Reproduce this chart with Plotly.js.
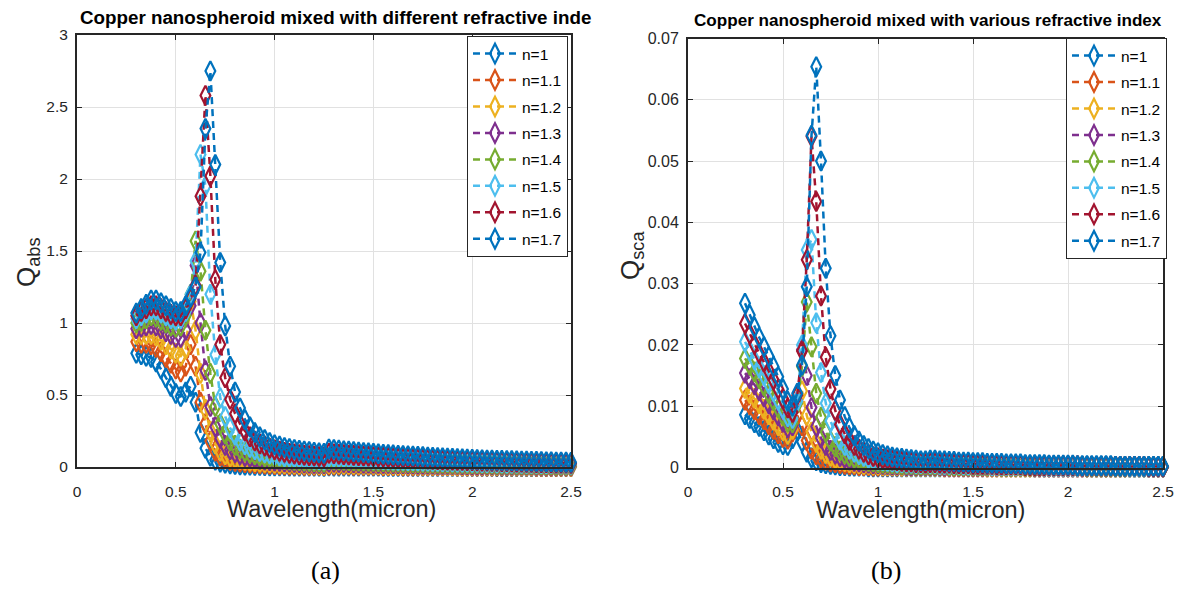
<!DOCTYPE html>
<html>
<head>
<meta charset="utf-8">
<script src="https://cdn.plot.ly/plotly-3.0.1.min.js"></script>
<style>
  html, body { margin: 0; padding: 0; background: #ffffff; }
  #chart { width: 1188px; height: 590px; }
</style>
</head>
<body>
<div id="chart"></div>
<script>
// Wavelength grid (micron)
const wavelength = [
  0.300,0.325,0.350,0.375,0.400,0.425,0.450,0.475,0.500,0.525,0.550,0.575,0.600,0.625,0.650,0.675,
  0.700,0.725,0.750,0.775,0.800,0.825,0.850,0.875,0.900,0.925,0.950,0.975,
  1.000,1.025,1.050,1.075,1.100,1.125,1.150,1.175,1.200,1.225,1.250,
  1.275,1.300,1.325,1.350,1.375,1.400,1.425,1.450,1.475,1.500,
  1.525,1.550,1.575,1.600,1.625,1.650,1.675,1.700,1.725,1.750,
  1.775,1.800,1.825,1.850,1.875,1.900,1.925,1.950,1.975,2.000,
  2.025,2.050,2.075,2.100,2.125,2.150,2.175,2.200,2.225,2.250,
  2.275,2.300,2.325,2.350,2.375,2.400,2.425,2.450,2.475,2.500
];

// Absorption efficiency Q_abs for each surrounding refractive index
const qabsN10 = [
  0.79,0.78,0.77,0.76,0.73,0.68,0.62,0.56,0.51,0.49,0.52,0.56,0.45,0.24,0.13,0.075,
  0.048,0.034,0.026,0.021,0.018,0.015,0.013,0.012,0.011,0.010,0.009,0.008,
  0.008,0.007,0.007,0.006,0.006,0.006,0.005,0.005,0.005,0.005,0.004,
  0.007,0.006,0.006,0.006,0.006,0.005,0.005,0.005,0.005,0.005,
  0.005,0.004,0.004,0.004,0.004,0.004,0.004,0.004,0.004,0.004,
  0.003,0.003,0.003,0.003,0.003,0.003,0.003,0.003,0.003,0.003,
  0.003,0.003,0.003,0.003,0.002,0.002,0.002,0.002,0.002,0.002,
  0.002,0.002,0.002,0.002,0.002,0.002,0.002,0.002,0.002,0.002
];
const qabsN11 = [
  0.87,0.86,0.86,0.85,0.83,0.80,0.76,0.72,0.68,0.66,0.70,0.85,0.70,0.45,0.30,0.18,
  0.11,0.075,0.056,0.045,0.038,0.033,0.029,0.026,0.023,0.021,0.019,0.018,
  0.016,0.015,0.014,0.013,0.013,0.012,0.011,0.011,0.010,0.010,0.009,
  0.013,0.013,0.012,0.012,0.012,0.011,0.011,0.011,0.010,0.010,
  0.010,0.009,0.009,0.009,0.009,0.008,0.008,0.008,0.008,0.008,
  0.007,0.007,0.007,0.007,0.007,0.007,0.006,0.006,0.006,0.006,
  0.006,0.006,0.006,0.005,0.005,0.005,0.005,0.005,0.005,0.005,
  0.005,0.005,0.004,0.004,0.004,0.004,0.004,0.004,0.004,0.004
];
const qabsN12 = [
  0.92,0.92,0.92,0.92,0.91,0.88,0.85,0.82,0.79,0.77,0.82,1.15,0.95,0.65,0.40,0.25,
  0.16,0.11,0.085,0.070,0.060,0.052,0.046,0.041,0.037,0.034,0.031,0.029,
  0.027,0.025,0.023,0.022,0.021,0.020,0.019,0.018,0.017,0.016,0.015,
  0.022,0.021,0.021,0.020,0.019,0.019,0.018,0.018,0.017,0.017,
  0.016,0.016,0.015,0.015,0.015,0.014,0.014,0.014,0.013,0.013,
  0.013,0.012,0.012,0.012,0.011,0.011,0.011,0.011,0.010,0.010,
  0.010,0.010,0.009,0.009,0.009,0.009,0.009,0.008,0.008,0.008,
  0.008,0.008,0.008,0.007,0.007,0.007,0.007,0.007,0.007,0.006
];
const qabsN13 = [
  0.96,0.97,0.98,0.99,0.98,0.96,0.94,0.92,0.90,0.90,0.95,1.12,1.40,1.00,0.67,0.42,
  0.28,0.20,0.15,0.12,0.10,0.085,0.074,0.066,0.059,0.053,0.048,0.044,
  0.041,0.038,0.035,0.033,0.031,0.029,0.028,0.026,0.025,0.024,0.023,
  0.034,0.033,0.032,0.031,0.030,0.029,0.028,0.027,0.026,0.026,
  0.025,0.024,0.024,0.023,0.022,0.022,0.021,0.021,0.020,0.020,
  0.019,0.019,0.018,0.018,0.017,0.017,0.017,0.016,0.016,0.015,
  0.015,0.015,0.014,0.014,0.014,0.013,0.013,0.013,0.012,0.012,
  0.012,0.012,0.011,0.011,0.011,0.011,0.010,0.010,0.010,0.010
];
const qabsN14 = [
  1.00,1.01,1.03,1.05,1.04,1.02,1.00,0.98,0.97,0.98,1.05,1.20,1.57,1.36,0.95,0.65,
  0.42,0.30,0.23,0.18,0.15,0.125,0.108,0.095,0.085,0.077,0.070,0.064,
  0.059,0.055,0.051,0.048,0.045,0.043,0.041,0.039,0.037,0.035,0.034,
  0.050,0.048,0.047,0.045,0.044,0.042,0.041,0.040,0.039,0.038,
  0.037,0.036,0.035,0.034,0.033,0.032,0.031,0.030,0.030,0.029,
  0.028,0.028,0.027,0.026,0.026,0.025,0.024,0.024,0.023,0.023,
  0.022,0.022,0.021,0.021,0.020,0.020,0.019,0.019,0.018,0.018,
  0.018,0.017,0.017,0.016,0.016,0.016,0.015,0.015,0.015,0.014
];
const qabsN15 = [
  1.03,1.05,1.07,1.09,1.09,1.07,1.05,1.03,1.02,1.03,1.08,1.20,1.43,2.17,1.95,1.20,
  0.78,0.48,0.35,0.27,0.22,0.18,0.155,0.135,0.120,0.108,0.098,0.090,
  0.083,0.077,0.072,0.068,0.064,0.061,0.058,0.055,0.053,0.051,0.049,
  0.070,0.068,0.066,0.064,0.062,0.060,0.058,0.056,0.055,0.053,
  0.052,0.050,0.049,0.048,0.046,0.045,0.044,0.043,0.042,0.041,
  0.040,0.039,0.038,0.037,0.036,0.035,0.034,0.033,0.033,0.032,
  0.031,0.030,0.030,0.029,0.028,0.028,0.027,0.026,0.026,0.025,
  0.025,0.024,0.024,0.023,0.023,0.022,0.022,0.021,0.021,0.020
];
const qabsN16 = [
  1.05,1.08,1.10,1.12,1.12,1.10,1.08,1.06,1.05,1.05,1.10,1.17,1.26,1.88,2.58,2.02,
  1.30,0.85,0.62,0.47,0.37,0.30,0.25,0.21,0.18,0.16,0.145,0.130,
  0.120,0.110,0.102,0.096,0.091,0.086,0.082,0.079,0.076,0.073,0.071,
  0.095,0.092,0.089,0.086,0.083,0.081,0.079,0.077,0.075,0.073,
  0.071,0.069,0.067,0.065,0.063,0.061,0.060,0.058,0.057,0.055,
  0.054,0.052,0.051,0.049,0.048,0.047,0.046,0.045,0.044,0.043,
  0.042,0.041,0.040,0.039,0.038,0.037,0.036,0.035,0.034,0.033,
  0.032,0.031,0.030,0.030,0.029,0.028,0.027,0.027,0.026,0.025
];
const qabsN17 = [
  1.07,1.10,1.13,1.16,1.16,1.14,1.12,1.10,1.08,1.08,1.12,1.18,1.25,1.49,2.35,2.75,
  2.10,1.42,0.98,0.70,0.52,0.41,0.33,0.28,0.24,0.21,0.19,0.17,
  0.155,0.145,0.135,0.128,0.122,0.116,0.111,0.107,0.103,0.099,0.096,
  0.125,0.121,0.117,0.113,0.110,0.107,0.104,0.101,0.098,0.095,
  0.092,0.089,0.087,0.084,0.082,0.080,0.078,0.076,0.074,0.072,
  0.070,0.068,0.066,0.064,0.062,0.060,0.058,0.057,0.055,0.053,
  0.052,0.050,0.049,0.048,0.047,0.046,0.045,0.044,0.043,0.042,
  0.041,0.040,0.039,0.038,0.037,0.036,0.035,0.035,0.034,0.033
];

// Scattering efficiency Q_sca for each surrounding refractive index
const qscaN10 = [
  0.0086,0.0080,0.0073,0.0067,0.0060,0.0053,0.0047,0.0041,0.0037,0.0036,0.0047,0.0060,0.0042,0.0025,0.0016,0.0011,
  0.0008,0.0006,0.0005,0.0004,0.0003,0.0003,0.0002,0.0002,0.0002,0.0002,0.0001,0.0001,
  0.0001,0.0001,0.0001,0.0001,0.0001,0.0001,0.0001,0.0001,0.0001,0.0001,0.0001,
  0.0001,0.0001,0.0001,0.0001,0.0001,0.0001,0.0001,0.0001,0.0001,0.0001,
  0.0001,0.0001,0.0001,0.0001,0.0001,0.0001,0.0001,0.0001,0.0001,0.0001,
  0.0001,0.0001,0.0001,0.0001,0.0001,0.0001,0.0001,0.0001,0.0001,0.0001,
  0.0001,0.0001,0.0001,0.0001,0.0001,0.0001,0.0001,0.0001,0.0001,0.0001,
  0.0001,0.0001,0.0001,0.0001,0.0001,0.0001,0.0001,0.0001,0.0001,0.0001
];
const qscaN11 = [
  0.0110,0.0102,0.0094,0.0086,0.0078,0.0070,0.0062,0.0055,0.0049,0.0046,0.0058,0.0085,0.0068,0.0044,0.0030,0.0021,
  0.0016,0.0012,0.0009,0.0008,0.0006,0.0005,0.0004,0.0004,0.0003,0.0003,0.0003,0.0002,
  0.0002,0.0002,0.0002,0.0002,0.0002,0.0002,0.0002,0.0002,0.0002,0.0002,0.0002,
  0.0002,0.0002,0.0002,0.0001,0.0001,0.0001,0.0001,0.0001,0.0001,0.0001,
  0.0001,0.0001,0.0001,0.0001,0.0001,0.0001,0.0001,0.0001,0.0001,0.0001,
  0.0001,0.0001,0.0001,0.0001,0.0001,0.0001,0.0001,0.0001,0.0001,0.0001,
  0.0001,0.0001,0.0001,0.0001,0.0001,0.0001,0.0001,0.0001,0.0001,0.0001,
  0.0001,0.0001,0.0001,0.0001,0.0001,0.0001,0.0001,0.0001,0.0001,0.0001
];
const qscaN12 = [
  0.0129,0.0121,0.0113,0.0104,0.0095,0.0086,0.0077,0.0068,0.0060,0.0054,0.0062,0.0105,0.0125,0.0085,0.0058,0.0041,
  0.0030,0.0023,0.0018,0.0014,0.0012,0.0010,0.0008,0.0007,0.0006,0.0005,0.0005,0.0004,
  0.0004,0.0003,0.0003,0.0003,0.0003,0.0002,0.0002,0.0002,0.0002,0.0002,0.0002,
  0.0002,0.0002,0.0002,0.0002,0.0002,0.0002,0.0002,0.0002,0.0002,0.0002,
  0.0002,0.0002,0.0001,0.0001,0.0001,0.0001,0.0001,0.0001,0.0001,0.0001,
  0.0001,0.0001,0.0001,0.0001,0.0001,0.0001,0.0001,0.0001,0.0001,0.0001,
  0.0001,0.0001,0.0001,0.0001,0.0001,0.0001,0.0001,0.0001,0.0001,0.0001,
  0.0001,0.0001,0.0001,0.0001,0.0001,0.0001,0.0001,0.0001,0.0001,0.0001
];
const qscaN13 = [
  0.0154,0.0145,0.0135,0.0125,0.0115,0.0104,0.0094,0.0084,0.0074,0.0065,0.0068,0.0108,0.0192,0.0150,0.0098,0.0067,
  0.0048,0.0036,0.0028,0.0022,0.0018,0.0015,0.0012,0.0010,0.0009,0.0008,0.0007,0.0006,
  0.0006,0.0005,0.0005,0.0004,0.0004,0.0004,0.0003,0.0003,0.0003,0.0003,0.0003,
  0.0003,0.0003,0.0003,0.0002,0.0002,0.0002,0.0002,0.0002,0.0002,0.0002,
  0.0002,0.0002,0.0002,0.0002,0.0002,0.0002,0.0002,0.0002,0.0002,0.0002,
  0.0002,0.0002,0.0001,0.0001,0.0001,0.0001,0.0001,0.0001,0.0001,0.0001,
  0.0001,0.0001,0.0001,0.0001,0.0001,0.0001,0.0001,0.0001,0.0001,0.0001,
  0.0001,0.0001,0.0001,0.0001,0.0001,0.0001,0.0001,0.0001,0.0001,0.0001
];
const qscaN14 = [
  0.0178,0.0167,0.0156,0.0145,0.0133,0.0121,0.0109,0.0097,0.0085,0.0074,0.0073,0.0105,0.0165,0.0270,0.0197,0.0121,
  0.0082,0.0058,0.0043,0.0034,0.0027,0.0022,0.0018,0.0015,0.0013,0.0011,0.0010,0.0009,
  0.0008,0.0007,0.0007,0.0006,0.0006,0.0005,0.0005,0.0005,0.0004,0.0004,0.0004,
  0.0004,0.0004,0.0004,0.0004,0.0003,0.0003,0.0003,0.0003,0.0003,0.0003,
  0.0003,0.0003,0.0003,0.0003,0.0003,0.0002,0.0002,0.0002,0.0002,0.0002,
  0.0002,0.0002,0.0002,0.0002,0.0002,0.0002,0.0002,0.0002,0.0002,0.0002,
  0.0002,0.0002,0.0002,0.0001,0.0001,0.0001,0.0001,0.0001,0.0001,0.0001,
  0.0001,0.0001,0.0001,0.0001,0.0001,0.0001,0.0001,0.0001,0.0001,0.0001
];
const qscaN15 = [
  0.0205,0.0190,0.0176,0.0163,0.0150,0.0137,0.0124,0.0110,0.0096,0.0083,0.0080,0.0108,0.0200,0.0355,0.0372,0.0236,
  0.0155,0.0105,0.0076,0.0057,0.0045,0.0036,0.0030,0.0025,0.0021,0.0018,0.0015,0.0013,
  0.0012,0.0011,0.0010,0.0009,0.0008,0.0008,0.0007,0.0007,0.0006,0.0006,0.0006,
  0.0006,0.0006,0.0005,0.0005,0.0005,0.0005,0.0005,0.0004,0.0004,0.0004,
  0.0004,0.0004,0.0004,0.0003,0.0003,0.0003,0.0003,0.0003,0.0003,0.0003,
  0.0003,0.0003,0.0003,0.0003,0.0002,0.0002,0.0002,0.0002,0.0002,0.0002,
  0.0002,0.0002,0.0002,0.0002,0.0002,0.0002,0.0002,0.0002,0.0002,0.0002,
  0.0002,0.0002,0.0001,0.0001,0.0001,0.0001,0.0001,0.0001,0.0001,0.0001
];
const qscaN16 = [
  0.0235,0.0218,0.0201,0.0186,0.0172,0.0158,0.0143,0.0128,0.0112,0.0097,0.0090,0.0118,0.0190,0.0339,0.0540,0.0434,
  0.0280,0.0180,0.0128,0.0093,0.0070,0.0055,0.0044,0.0036,0.0030,0.0025,0.0021,0.0018,
  0.0016,0.0014,0.0013,0.0012,0.0011,0.0010,0.0009,0.0009,0.0008,0.0008,0.0007,
  0.0008,0.0008,0.0007,0.0007,0.0007,0.0006,0.0006,0.0006,0.0006,0.0005,
  0.0005,0.0005,0.0005,0.0005,0.0004,0.0004,0.0004,0.0004,0.0004,0.0004,
  0.0003,0.0003,0.0003,0.0003,0.0003,0.0003,0.0003,0.0003,0.0003,0.0003,
  0.0003,0.0003,0.0002,0.0002,0.0002,0.0002,0.0002,0.0002,0.0002,0.0002,
  0.0002,0.0002,0.0002,0.0002,0.0002,0.0002,0.0001,0.0001,0.0001,0.0001
];
const qscaN17 = [
  0.0268,0.0249,0.0229,0.0212,0.0197,0.0181,0.0165,0.0148,0.0128,0.0108,0.0100,0.0121,0.0167,0.0295,0.0542,0.0654,
  0.0500,0.0325,0.0215,0.0150,0.0110,0.0083,0.0065,0.0052,0.0043,0.0036,0.0031,0.0027,
  0.0024,0.0021,0.0019,0.0017,0.0016,0.0015,0.0014,0.0013,0.0012,0.0011,0.0011,
  0.0012,0.0012,0.0011,0.0011,0.0010,0.0010,0.0009,0.0009,0.0009,0.0008,
  0.0008,0.0008,0.0007,0.0007,0.0007,0.0007,0.0006,0.0006,0.0006,0.0006,
  0.0005,0.0005,0.0005,0.0005,0.0005,0.0004,0.0004,0.0004,0.0004,0.0004,
  0.0004,0.0003,0.0003,0.0003,0.0003,0.0003,0.0003,0.0003,0.0003,0.0002,
  0.0002,0.0002,0.0002,0.0002,0.0002,0.0002,0.0002,0.0002,0.0002,0.0002
];

const seriesNames  = ['n=1', 'n=1.1', 'n=1.2', 'n=1.3', 'n=1.4', 'n=1.5', 'n=1.6', 'n=1.7'];
const seriesColors = ['#0072BD', '#D95319', '#EDB120', '#7E2F8E', '#77AC30', '#4DBEEE', '#A2142F', '#0072BD'];
const qabsSeries = [qabsN10, qabsN11, qabsN12, qabsN13, qabsN14, qabsN15, qabsN16, qabsN17];
const qscaSeries = [qscaN10, qscaN11, qscaN12, qscaN13, qscaN14, qscaN15, qscaN16, qscaN17];

const xTickVals = [0, 0.5, 1, 1.5, 2, 2.5];
const xTickText = ['0', '0.5', '1', '1.5', '2', '2.5'];
const absTickVals = [0, 0.5, 1, 1.5, 2, 2.5, 3];
const absTickText = ['0', '0.5', '1', '1.5', '2', '2.5', '3'];
const scaTickVals = [0, 0.01, 0.02, 0.03, 0.04, 0.05, 0.06, 0.07];
const scaTickText = ['0', '0.01', '0.02', '0.03', '0.04', '0.05', '0.06', '0.07'];

const SANS = "'Liberation Sans', Arial, Helvetica, sans-serif";
const SERIF = "'Liberation Serif', 'Times New Roman', serif";
const W = 1188, H = 590;
const px = v => v / W;           // horizontal pixel -> paper
const py = v => 1 - v / H;       // vertical pixel -> paper

function seriesTrace(values, i, xa, ya, legendId, group) {
  return {
    type: 'scatter',
    mode: 'lines+markers',
    x: wavelength,
    y: values,
    name: seriesNames[i],
    xaxis: xa,
    yaxis: ya,
    legend: legendId,
    legendgroup: group + i,
    cliponaxis: false,
    line: { color: seriesColors[i], width: 2.5, dash: '7px,5px' },
    marker: {
      symbol: 'diamond-tall-open',
      size: 14,
      color: seriesColors[i],
      line: { color: seriesColors[i], width: 2.2 }
    }
  };
}

const traces = [];
qabsSeries.forEach((s, i) => traces.push(seriesTrace(s, i, 'x', 'y', 'legend', 'abs')));
qscaSeries.forEach((s, i) => traces.push(seriesTrace(s, i, 'x2', 'y2', 'legend2', 'sca')));

function axisStyle(extra, fontSize) {
  return Object.assign({
    showline: true, linecolor: '#262626', linewidth: 2, mirror: 'ticks',
    ticks: 'inside', ticklen: 5, tickwidth: 1, tickcolor: '#262626',
    showgrid: true, gridcolor: '#e1e1e1', gridwidth: 1, zeroline: false,
    tickfont: { family: SANS, size: fontSize, color: '#262626' },
    tickmode: 'array', fixedrange: true
  }, extra);
}

function legendStyle(x, y) {
  return {
    x: x, y: y, xanchor: 'left', yanchor: 'top',
    bgcolor: '#ffffff', bordercolor: '#262626', borderwidth: 1,
    font: { family: SANS, size: 15.5, color: '#000000' },
    tracegroupgap: 3.3, traceorder: 'grouped', itemwidth: 44,
    itemclick: false, itemdoubleclick: false
  };
}

const layout = {
  width: W, height: H,
  margin: { l: 0, r: 0, t: 0, b: 0 },
  paper_bgcolor: '#ffffff', plot_bgcolor: '#ffffff',
  showlegend: true,
  xaxis: axisStyle({ domain: [px(77), px(571)], range: [0, 2.5], anchor: 'y',
    tickvals: xTickVals, ticktext: xTickText, ticklabelstandoff: 9 }, 15.5),
  yaxis: axisStyle({ domain: [py(467), py(35)], range: [0, 3], anchor: 'x',
    tickvals: absTickVals, ticktext: absTickText, ticklabelstandoff: 4 }, 15.5),
  xaxis2: axisStyle({ domain: [px(688), px(1163)], range: [0, 2.5], anchor: 'y2',
    tickvals: xTickVals, ticktext: xTickText, ticklabelstandoff: 9 }, 15.5),
  yaxis2: axisStyle({ domain: [py(467.5), py(38.5)], range: [0, 0.07], anchor: 'x2',
    tickvals: scaTickVals, ticktext: scaTickText, ticklabelstandoff: 4 }, 16),
  legend: legendStyle(px(467), py(36)),
  legend2: legendStyle(px(1066), py(38)),
  annotations: [
    { text: '<b>Copper nanospheroid mixed with different refractive inde</b>',
      xref: 'paper', yref: 'paper', x: px(78), y: py(18), xanchor: 'left', yanchor: 'middle',
      showarrow: false, font: { family: SANS, size: 18.8, color: '#000000' } },
    { text: '<b>Copper nanospheroid mixed with various refractive index</b>',
      xref: 'paper', yref: 'paper', x: px(692), y: py(20), xanchor: 'left', yanchor: 'middle',
      showarrow: false, font: { family: SANS, size: 17.1, color: '#000000' } },
    { text: 'Wavelength(micron)', xref: 'paper', yref: 'paper', x: px(331), y: py(509),
      xanchor: 'center', yanchor: 'middle', showarrow: false,
      font: { family: SANS, size: 23.5, color: '#262626' } },
    { text: 'Wavelength(micron)', xref: 'paper', yref: 'paper', x: px(920), y: py(510),
      xanchor: 'center', yanchor: 'middle', showarrow: false,
      font: { family: SANS, size: 23.5, color: '#262626' } },
    { text: 'Q<sub>abs</sub>', xref: 'paper', yref: 'paper', x: px(27), y: py(262),
      xanchor: 'center', yanchor: 'middle', textangle: -90, showarrow: false,
      font: { family: SANS, size: 26, color: '#262626' } },
    { text: 'Q<sub>sca</sub>', xref: 'paper', yref: 'paper', x: px(631), y: py(256),
      xanchor: 'center', yanchor: 'middle', textangle: -90, showarrow: false,
      font: { family: SANS, size: 26, color: '#262626' } },
    { text: '(a)', xref: 'paper', yref: 'paper', x: px(325), y: py(570),
      xanchor: 'center', yanchor: 'middle', showarrow: false,
      font: { family: SERIF, size: 26, color: '#000000' } },
    { text: '(b)', xref: 'paper', yref: 'paper', x: px(886), y: py(570),
      xanchor: 'center', yanchor: 'middle', showarrow: false,
      font: { family: SERIF, size: 26, color: '#000000' } }
  ]
};

Plotly.newPlot('chart', traces, layout, { displayModeBar: false, staticPlot: true });
</script>
</body>
</html>
